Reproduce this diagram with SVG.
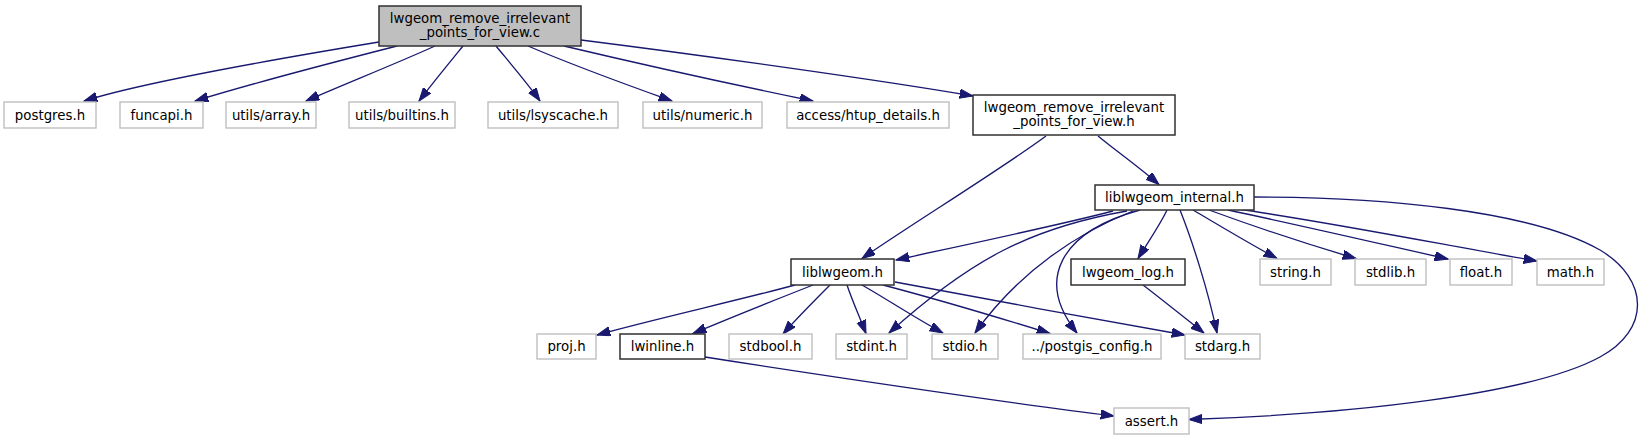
<svg xmlns="http://www.w3.org/2000/svg" width="1645" height="440" viewBox="0 0 1645 440">
<style>
  .ext rect { fill: #ffffff; stroke: #bfbfbf; stroke-width: 1.4; }
  .doc rect { fill: #ffffff; stroke: #303030; stroke-width: 1.5; }
  .root rect { fill: #bfbfbf; stroke: #303030; stroke-width: 1.5; }
  text { font-family: "DejaVu Sans", "Liberation Sans", sans-serif; font-size: 13.33px; fill: #000000; text-anchor: middle; }
  #edges path { fill: none; stroke: #191970; stroke-width: 1.33; marker-end: url(#arrow); }
</style>
<defs>
  <marker id="arrow" markerUnits="userSpaceOnUse" markerWidth="14" markerHeight="10" refX="13.3" refY="4.67" orient="auto">
    <path d="M0,0 L13.3,4.67 L0,9.34 z" fill="#191970" stroke="#191970" stroke-width="1"/>
  </marker>
</defs>
<rect x="0" y="0" width="1645" height="440" fill="#ffffff"/>

<g id="edges">
  <path d="M379,42 C300,55 150,80 84,101"/>
  <path d="M397,46 C350,58 250,84 195,101"/>
  <path d="M435,46 C400,62 340,86 306,101"/>
  <path d="M463,46 C450,62 432,84 419,101"/>
  <path d="M496,46 C510,63 528,84 540,101"/>
  <path d="M528,46 C570,64 630,86 672,101"/>
  <path d="M564,46 C640,64 740,86 813,101"/>
  <path d="M581,40 C700,55 880,80 973,96"/>
  <path d="M1046,136 C1000,170 910,225 862,258.5"/>
  <path d="M1098,136 C1115,150 1140,168 1159,184.5"/>
  <path d="M1113,211 C1060,225 960,246 896,260"/>
  <path d="M1127,211 C1030,228 970,260 889,333"/>
  <path d="M1133,211 C1080,232 1020,270 975,333"/>
  <path d="M1140,210 C1060,232 1035,280 1077,333"/>
  <path d="M1167,210 C1160,225 1148,242 1138,258.5"/>
  <path d="M1180,210 C1192,240 1208,290 1217,333"/>
  <path d="M1193,210 C1215,223 1250,244 1277,258.5"/>
  <path d="M1209,210 C1250,225 1310,245 1356,258.5"/>
  <path d="M1228,210 C1290,223 1390,246 1448,259"/>
  <path d="M1237,209 C1330,222 1460,248 1537,261"/>
  <path d="M1254,197 C1380,197 1530,210 1600,250 C1650,280 1650,330 1600,357 C1530,395 1350,414 1189,419.5"/>
  <path d="M795,285 C740,300 650,320 597,335"/>
  <path d="M813,285 C780,298 730,318 693,333.5"/>
  <path d="M830,285 C815,300 797,318 783,334"/>
  <path d="M847,285 C852,300 860,318 866,333.5"/>
  <path d="M862,285 C885,298 915,318 943,333"/>
  <path d="M883,285 C940,300 1000,318 1050,333.5"/>
  <path d="M895,282 C980,298 1100,320 1185,335"/>
  <path d="M1143,285 C1160,298 1185,318 1204,333"/>
  <path d="M705,357 C800,372 1000,402 1114,416"/>
</g>

<g id="node_root" class="root">
  <rect x="379" y="6" width="202" height="40"/>
  <text x="480" y="23.3">lwgeom_remove_irrelevant</text>
  <text x="480" y="37.3">_points_for_view.c</text>
</g>
<g id="node_postgres" class="ext">
  <rect x="4" y="102" width="92" height="26"/>
  <text x="50" y="119.7">postgres.h</text>
</g>
<g id="node_funcapi" class="ext">
  <rect x="120" y="102" width="83" height="26"/>
  <text x="161.5" y="119.7">funcapi.h</text>
</g>
<g id="node_array" class="ext">
  <rect x="226" y="102" width="90" height="26"/>
  <text x="271" y="119.7">utils/array.h</text>
</g>
<g id="node_builtins" class="ext">
  <rect x="349" y="102" width="106" height="26"/>
  <text x="402" y="119.7">utils/builtins.h</text>
</g>
<g id="node_lsyscache" class="ext">
  <rect x="488" y="102" width="130" height="26"/>
  <text x="553" y="119.7">utils/lsyscache.h</text>
</g>
<g id="node_numeric" class="ext">
  <rect x="643" y="102" width="119" height="26"/>
  <text x="702.5" y="119.7">utils/numeric.h</text>
</g>
<g id="node_htup" class="ext">
  <rect x="787" y="102" width="162" height="26"/>
  <text x="868" y="119.7">access/htup_details.h</text>
</g>
<g id="node_view_h" class="doc">
  <rect x="973" y="95" width="202" height="40"/>
  <text x="1074" y="112.3">lwgeom_remove_irrelevant</text>
  <text x="1074" y="126.3">_points_for_view.h</text>
</g>
<g id="node_internal" class="doc">
  <rect x="1095" y="185" width="159" height="25"/>
  <text x="1174.5" y="202.2">liblwgeom_internal.h</text>
</g>
<g id="node_liblwgeom" class="doc">
  <rect x="791" y="259" width="103" height="26"/>
  <text x="842.5" y="276.7">liblwgeom.h</text>
</g>
<g id="node_log" class="doc">
  <rect x="1071" y="259" width="114" height="26"/>
  <text x="1128" y="276.7">lwgeom_log.h</text>
</g>
<g id="node_string" class="ext">
  <rect x="1260" y="259" width="71" height="26"/>
  <text x="1295.5" y="276.7">string.h</text>
</g>
<g id="node_stdlib" class="ext">
  <rect x="1355" y="259" width="71" height="26"/>
  <text x="1390.5" y="276.7">stdlib.h</text>
</g>
<g id="node_float" class="ext">
  <rect x="1450" y="259" width="62" height="26"/>
  <text x="1481" y="276.7">float.h</text>
</g>
<g id="node_math" class="ext">
  <rect x="1537" y="259" width="67" height="26"/>
  <text x="1570.5" y="276.7">math.h</text>
</g>
<g id="node_proj" class="ext">
  <rect x="537" y="334" width="59" height="25"/>
  <text x="566.5" y="351.2">proj.h</text>
</g>
<g id="node_lwinline" class="doc">
  <rect x="620" y="334" width="85" height="25"/>
  <text x="662.5" y="351.2">lwinline.h</text>
</g>
<g id="node_stdbool" class="ext">
  <rect x="729" y="334" width="83" height="25"/>
  <text x="770.5" y="351.2">stdbool.h</text>
</g>
<g id="node_stdint" class="ext">
  <rect x="836" y="334" width="71" height="25"/>
  <text x="871.5" y="351.2">stdint.h</text>
</g>
<g id="node_stdio" class="ext">
  <rect x="932" y="334" width="66" height="25"/>
  <text x="965" y="351.2">stdio.h</text>
</g>
<g id="node_postgis_config" class="ext">
  <rect x="1023" y="334" width="138" height="25"/>
  <text x="1092" y="351.2">../postgis_config.h</text>
</g>
<g id="node_stdarg" class="ext">
  <rect x="1185" y="334" width="75" height="25"/>
  <text x="1222.5" y="351.2">stdarg.h</text>
</g>
<g id="node_assert" class="ext">
  <rect x="1114" y="408" width="75" height="26"/>
  <text x="1151.5" y="425.7">assert.h</text>
</g>
</svg>
